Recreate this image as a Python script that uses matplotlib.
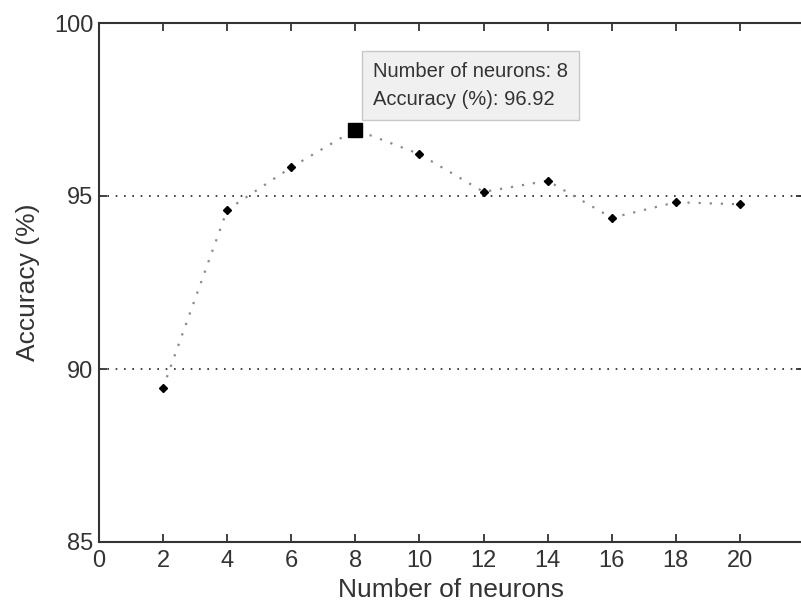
import matplotlib
matplotlib.use("Agg")
import matplotlib.pyplot as plt

plt.rcParams['font.family'] = ['Liberation Sans', 'DejaVu Sans']

neurons = [2, 4, 6, 8, 10, 12, 14, 16, 18, 20]
accuracy = [89.46, 94.60, 95.83, 96.92, 96.21, 95.12, 95.44, 94.37, 94.82, 94.76]
best_n = 8
best_acc = 96.92
xticks = [0, 2, 4, 6, 8, 10, 12, 14, 16, 18, 20]
yticks = [85, 90, 95, 100]

fig = plt.figure(figsize=(8.01, 6.13), dpi=100)
ax = fig.add_axes([99/801, 71/613, 705/801, 519/613])

ax.plot(neurons, accuracy, color='#8a8a8a', linestyle=(0, (1, 4)), linewidth=1.6,
        marker='D', markersize=4.5, markerfacecolor='black', markeredgecolor='black', zorder=3)
ax.plot([best_n], [best_acc], marker='s', markersize=10, color='black', linestyle='none', zorder=4)

# data tip box
ax.annotate(f"Number of neurons: {best_n}\nAccuracy (%): {best_acc:.2f}",
            xy=(best_n, best_acc), xytext=(18, 21), textcoords='offset pixels',
            ha='left', va='bottom', fontsize=14.5, color='#333333', linespacing=1.55,
            bbox=dict(boxstyle='square,pad=0.55', facecolor='#f0f0f0', edgecolor='#c8c8c8', linewidth=1),
            zorder=5)

ax.set_xlim(0, 22)
ax.set_ylim(85, 100)
ax.set_xticks(xticks)
ax.set_yticks(yticks)
ax.yaxis.grid(True, color='#222222', linestyle=(0, (1, 4)), linewidth=1.2)
ax.set_axisbelow(True)

for s in ax.spines.values():
    s.set_color('#333333')
    s.set_linewidth(1.5)

ax.tick_params(direction='in', length=6, width=1.3, colors='#333333', labelsize=17,
               top=True, right=True, labelcolor='#333333')
ax.tick_params(axis='x', pad=6)
ax.tick_params(axis='y', pad=4)

ax.set_xlabel('Number of neurons', fontsize=19, color='#333333', labelpad=4)
ax.set_ylabel('Accuracy (%)', fontsize=19, color='#333333', labelpad=10)

fig.savefig('out.png', dpi=100)
